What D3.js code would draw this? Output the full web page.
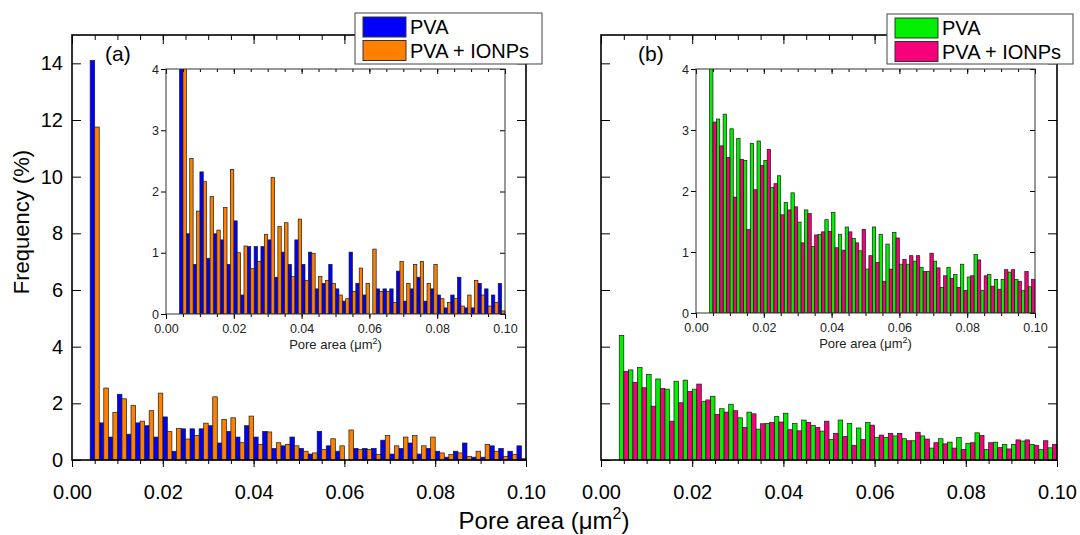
<!DOCTYPE html>
<html>
<head>
<meta charset="utf-8">
<script src="https://cdn.jsdelivr.net/npm/d3@7"></script>
<style>
  body { margin: 0; background: #fff; }
  svg { font-family: "Liberation Sans", Arial, sans-serif; }
</style>
</head>
<body>
<div id="chart"></div>
<script>
// bin left edges (pore area, um^2), bin width 0.002
const bins = [0.004, 0.006, 0.008, 0.010, 0.012, 0.014, 0.016, 0.018, 0.020, 0.022,
  0.024, 0.026, 0.028, 0.030, 0.032, 0.034, 0.036, 0.038, 0.040, 0.042,
  0.044, 0.046, 0.048, 0.050, 0.052, 0.054, 0.056, 0.058, 0.060, 0.062,
  0.064, 0.066, 0.068, 0.070, 0.072, 0.074, 0.076, 0.078, 0.080, 0.082,
  0.084, 0.086, 0.088, 0.090, 0.092, 0.094, 0.096, 0.098];
const binWidth = 0.002;

// panel (a)
const pvaA = [14.1, 1.31, 0.81, 2.32, 0.91, 1.31, 1.21, 0.81, 1.52, 0.31,
  1.10, 1.10, 1.10, 1.21, 0.60, 1.01, 0.81, 1.21, 0.81, 1.01,
  0.41, 0.50, 0.81, 0.41, 0.21, 1.01, 0.50, 0.31, 0, 0.41,
  0.41, 0.41, 0.70, 0.21, 0.41, 0.60, 0.21, 0.41, 0.31, 0.10,
  0.31, 0.60, 0.10, 0.10, 0.50, 0.41, 0.31, 0.50];
const ionpA = [11.75, 2.54, 1.68, 2.16, 1.92, 1.37, 1.74, 2.36, 1.00, 1.11,
  0.74, 0.86, 1.30, 2.23, 1.43, 1.49, 0.61, 1.55, 0.55, 0.99,
  0.61, 0.55, 0.50, 0.31, 0.25, 0.37, 0.75, 0.50, 1.06, 0.37,
  0.37, 0.19, 0.86, 0.50, 0.81, 0.86, 0.50, 0.81, 0.25, 0.19,
  0.25, 0.13, 0.31, 0.55, 0.31, 0.13, 0.19, 0.05];

// panel (b)
const pvaB = [4.40, 3.18, 3.26, 3.02, 2.86, 2.50, 2.78, 2.82, 2.50, 2.06,
  2.25, 1.81, 1.97, 1.49, 1.69, 1.09, 1.29, 1.53, 1.65, 1.29,
  1.41, 1.22, 1.02, 0.72, 1.41, 1.29, 1.13, 1.32, 0.80, 0.80,
  0.85, 0.75, 0.68, 0.85, 0.42, 0.75, 0.63, 0.80, 0.59, 0.96,
  0.37, 0.63, 0.55, 0.55, 0.67, 0.55, 0.37, 0.43];
const ionpB = [3.13, 2.74, 2.55, 1.90, 2.52, 1.37, 2.02, 2.42, 2.68, 2.12,
  1.61, 1.69, 1.74, 1.15, 1.63, 1.28, 1.33, 1.34, 1.07, 1.03,
  1.33, 1.15, 1.37, 0.94, 0.83, 0.52, 0.72, 1.23, 0.88, 0.94,
  0.94, 0.68, 0.98, 0.74, 0.61, 0.57, 0.42, 0.37, 0.61, 0.87,
  0.61, 0.44, 0.39, 0.71, 0.71, 0.52, 0.68, 0.55];

const seriesNames = ["PVA", "PVA + IONPs"];
const xTicks = [0, 0.02, 0.04, 0.06, 0.08, 0.10];
const yTicksMain = [0, 2, 4, 6, 8, 10, 12, 14];
const yTicksInset = [0, 1, 2, 3, 4];

const width = 1080, height = 535;

const svg = d3.select("#chart").append("svg")
  .attr("width", width)
  .attr("height", height);

const panels = [
  { id: "a", label: "(a)", left: 72, right: 526, data: [pvaA, ionpA], colors: ["#0000ff", "#ff8000"],
    inset: { l: 166, r: 505, t: 69, b: 314 }, legend: { x: 355, y: 13, w: 187, h: 51 }, yLabels: true, labelX: 105 },
  { id: "b", label: "(b)", left: 601, right: 1057, data: [pvaB, ionpB], colors: ["#00f000", "#f5007a"],
    inset: { l: 696, r: 1035, t: 69, b: 313 }, legend: { x: 887, y: 14, w: 186, h: 50 }, yLabels: false, labelX: 638 }
];

const plotTop = 35, plotBottom = 460;

function drawBars(g, x, y, data, colors) {
  data.forEach((vals, s) => {
    g.append("g")
      .selectAll("rect")
      .data(vals)
      .enter()
      .append("rect")
      .attr("x", (d, i) => x(bins[i] + s * binWidth / 2))
      .attr("width", (d, i) => x(bins[i] + binWidth / 2) - x(bins[i]))
      .attr("y", d => y(d))
      .attr("height", d => y(0) - y(d))
      .attr("fill", colors[s])
      .attr("stroke", "#1a1a1a")
      .attr("stroke-width", 0.7);
  });
}

function cleanAxis(sel) {
  sel.select(".domain").remove();
  sel.selectAll("line").attr("stroke", "#000");
}

panels.forEach(p => {
  const x = d3.scaleLinear().domain([0, 0.1]).range([p.left, p.right]);
  const y = d3.scaleLinear().domain([0, 15]).range([plotBottom, plotTop]);
  const g = svg.append("g");

  drawBars(g, x, y, p.data, p.colors);

  // main axes
  const minor = x.ticks(20);
  g.append("g").attr("transform", `translate(0,${plotBottom})`)
    .call(d3.axisBottom(x).tickValues(minor).tickSize(4).tickFormat("")).call(cleanAxis);
  g.append("g").attr("transform", `translate(0,${plotBottom})`)
    .call(d3.axisBottom(x).tickValues(xTicks).tickSize(7).tickPadding(18).tickFormat(d3.format(".2f")))
    .call(cleanAxis)
    .selectAll("text").attr("font-size", 20).attr("fill", "#000");
  g.append("g").attr("transform", `translate(0,${plotTop})`)
    .call(d3.axisTop(x).tickValues(minor).tickSize(-5).tickFormat("")).call(cleanAxis);
  g.append("g").attr("transform", `translate(0,${plotTop})`)
    .call(d3.axisTop(x).tickValues(xTicks).tickSize(-9).tickFormat("")).call(cleanAxis);
  const yl = g.append("g").attr("transform", `translate(${p.left},0)`)
    .call(d3.axisLeft(y).tickValues(yTicksMain).tickSize(-9).tickPadding(9)
      .tickFormat(p.yLabels ? d3.format("d") : ""))
    .call(cleanAxis);
  yl.selectAll("text").attr("font-size", 20).attr("fill", "#000");
  g.append("g").attr("transform", `translate(${p.right},0)`)
    .call(d3.axisRight(y).tickValues(yTicksMain).tickSize(-9).tickFormat("")).call(cleanAxis);

  g.append("rect")
    .attr("x", p.left).attr("y", plotTop)
    .attr("width", p.right - p.left).attr("height", plotBottom - plotTop)
    .attr("fill", "none").attr("stroke", "#000").attr("stroke-width", 1.6);

  g.append("text")
    .attr("x", p.labelX).attr("y", 61)
    .attr("font-size", 21)
    .text(p.label);

  // inset
  const ins = p.inset;
  const xi = d3.scaleLinear().domain([0, 0.1]).range([ins.l, ins.r]);
  const yi = d3.scaleLinear().domain([0, 4]).range([ins.b, ins.t]);
  const gi = svg.append("g");
  gi.append("rect")
    .attr("x", ins.l).attr("y", ins.t)
    .attr("width", ins.r - ins.l).attr("height", ins.b - ins.t)
    .attr("fill", "#fff");
  gi.append("clipPath").attr("id", "clip-" + p.id)
    .append("rect")
    .attr("x", ins.l - 1).attr("y", ins.t)
    .attr("width", ins.r - ins.l + 2).attr("height", ins.b - ins.t);
  const gb = gi.append("g").attr("clip-path", `url(#clip-${p.id})`);
  drawBars(gb, xi, yi, p.data, p.colors);

  const minorI = xi.ticks(20);
  gi.append("g").attr("transform", `translate(0,${ins.b})`)
    .call(d3.axisBottom(xi).tickValues(minorI).tickSize(3).tickFormat("")).call(cleanAxis);
  gi.append("g").attr("transform", `translate(0,${ins.b})`)
    .call(d3.axisBottom(xi).tickValues(xTicks).tickSize(5).tickPadding(5).tickFormat(d3.format(".2f")))
    .call(cleanAxis)
    .selectAll("text").attr("font-size", 12.5).attr("fill", "#222");
  gi.append("g").attr("transform", `translate(0,${ins.t})`)
    .call(d3.axisTop(xi).tickValues(minorI).tickSize(-3).tickFormat("")).call(cleanAxis);
  gi.append("g").attr("transform", `translate(0,${ins.t})`)
    .call(d3.axisTop(xi).tickValues(xTicks).tickSize(-5).tickFormat("")).call(cleanAxis);
  gi.append("g").attr("transform", `translate(${ins.l},0)`)
    .call(d3.axisLeft(yi).tickValues(yTicksInset).tickSize(5).tickPadding(2).tickFormat(d3.format("d")))
    .call(cleanAxis)
    .selectAll("text").attr("font-size", 12.5).attr("fill", "#222");
  gi.append("g").attr("transform", `translate(${ins.r},0)`)
    .call(d3.axisRight(yi).tickValues(yTicksInset).tickSize(-5).tickFormat("")).call(cleanAxis);
  gi.append("rect")
    .attr("x", ins.l).attr("y", ins.t)
    .attr("width", ins.r - ins.l).attr("height", ins.b - ins.t)
    .attr("fill", "none").attr("stroke", "#333").attr("stroke-width", 1);

  const it = gi.append("text")
    .attr("x", (ins.l + ins.r) / 2).attr("y", ins.b + 35)
    .attr("text-anchor", "middle")
    .attr("font-size", 13).attr("fill", "#222");
  it.append("tspan").text("Pore area (\u03bcm");
  it.append("tspan").attr("dy", -5).attr("font-size", 9).text("2");
  it.append("tspan").attr("dy", 5).text(")");

  // legend
  const lg = p.legend;
  const gl = svg.append("g");
  gl.append("rect")
    .attr("x", lg.x).attr("y", lg.y).attr("width", lg.w).attr("height", lg.h)
    .attr("fill", "#fff").attr("stroke", "#444").attr("stroke-width", 1);
  const item = gl.selectAll(".legend-item")
    .data(seriesNames)
    .enter()
    .append("g")
    .attr("class", "legend-item")
    .attr("transform", (d, i) => `translate(${lg.x + 8},${lg.y + 4 + i * 23.5})`);
  item.append("rect")
    .attr("width", 43).attr("height", 20)
    .attr("fill", (d, i) => p.colors[i])
    .attr("stroke", "#333").attr("stroke-width", 1);
  item.append("text")
    .attr("x", 47).attr("y", 17)
    .attr("font-size", 20)
    .text(d => d);
});

// shared labels
svg.append("text")
  .attr("transform", "translate(29,222) rotate(-90)")
  .attr("text-anchor", "middle")
  .attr("font-size", 22)
  .text("Frequency (%)");

const xt = svg.append("text")
  .attr("x", 544).attr("y", 529)
  .attr("text-anchor", "middle")
  .attr("font-size", 24);
xt.append("tspan").text("Pore area (\u03bcm");
xt.append("tspan").attr("dy", -10).attr("font-size", 16).text("2");
xt.append("tspan").attr("dy", 10).text(")");
</script>
</body>
</html>
